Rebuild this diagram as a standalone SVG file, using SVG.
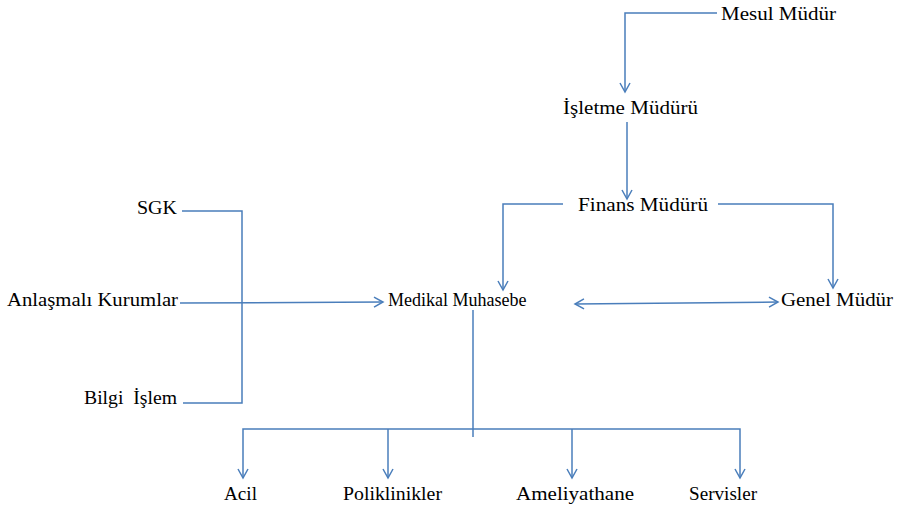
<svg xmlns="http://www.w3.org/2000/svg" width="897" height="509" viewBox="0 0 897 509">
<defs>
<marker id="a" markerWidth="12" markerHeight="12" refX="10" refY="6" orient="auto" markerUnits="userSpaceOnUse">
<path d="M1,1 L10,6 L1,11" fill="none" stroke="#4a7ebb" stroke-width="1.5"/>
</marker>
<marker id="s" markerWidth="12" markerHeight="12" refX="2" refY="6" orient="auto" markerUnits="userSpaceOnUse">
<path d="M11,1 L2,6 L11,11" fill="none" stroke="#4a7ebb" stroke-width="1.5"/>
</marker>
</defs>
<rect width="897" height="509" fill="#fff"/>
<g id="connectors" fill="none" stroke="#4a7ebb" stroke-width="1.5">
<path d="M717,13 H625 V92" marker-end="url(#a)"/>
<path d="M627,122 V199" marker-end="url(#a)"/>
<path d="M563,204 H503 V290" marker-end="url(#a)"/>
<path d="M718,204 H833 V288" marker-end="url(#a)"/>
<path d="M575,304 L778,302" marker-start="url(#s)" marker-end="url(#a)"/>
<path d="M182,211 H242 V403 H183"/>
<path d="M180,303 L383,302" marker-end="url(#a)"/>
<path d="M473,310 V437"/>
<path d="M243,478 V429 H740 V478" marker-start="url(#s)" marker-end="url(#a)"/>
<path d="M388,429 V478" marker-end="url(#a)"/>
<path d="M572,429 V478" marker-end="url(#a)"/>
</g>
<g font-family="Liberation Serif, serif" font-size="18" fill="#000">
<g id="mesul"><text x="721" y="20" textLength="115" lengthAdjust="spacingAndGlyphs">Mesul Müdür</text></g>
<g id="isletme"><text x="563" y="114" textLength="135" lengthAdjust="spacingAndGlyphs">İşletme Müdürü</text></g>
<g id="finans"><text x="578" y="211" textLength="130" lengthAdjust="spacingAndGlyphs">Finans Müdürü</text></g>
<g id="medikal"><text x="388" y="306">Medikal Muhasebe</text></g>
<g id="genel"><text x="781" y="306" textLength="112" lengthAdjust="spacingAndGlyphs">Genel Müdür</text></g>
<g id="sgk"><text x="137" y="214" textLength="40" lengthAdjust="spacingAndGlyphs">SGK</text></g>
<g id="anlasmali"><text x="7" y="306" textLength="171" lengthAdjust="spacingAndGlyphs">Anlaşmalı Kurumlar</text></g>
<g id="bilgi"><text x="84" y="404" textLength="93" lengthAdjust="spacingAndGlyphs" xml:space="preserve">Bilgi  İşlem</text></g>
<g id="acil"><text x="224" y="500" textLength="33" lengthAdjust="spacingAndGlyphs">Acil</text></g>
<g id="poliklinikler"><text x="343" y="500" textLength="99" lengthAdjust="spacingAndGlyphs">Poliklinikler</text></g>
<g id="ameliyathane"><text x="516" y="500" textLength="118" lengthAdjust="spacingAndGlyphs">Ameliyathane</text></g>
<g id="servisler"><text x="689" y="500" textLength="68" lengthAdjust="spacingAndGlyphs">Servisler</text></g>
</g>
</svg>
